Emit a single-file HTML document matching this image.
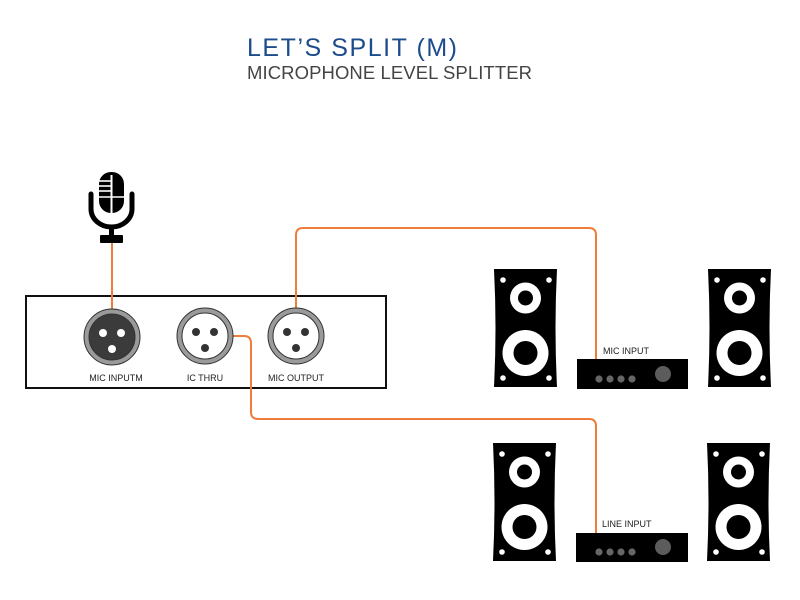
<!DOCTYPE html>
<html><head><meta charset="utf-8"><style>
html,body{margin:0;padding:0;background:#fff;}
svg{display:block;}
text{font-family:"Liberation Sans",Arial,sans-serif;}
</style></head><body>
<svg width="800" height="600" viewBox="0 0 800 600" xmlns="http://www.w3.org/2000/svg">
<rect width="800" height="600" fill="#fff"/>
<!-- Title -->
<text x="247" y="56" font-size="25" fill="#1d4c8c" textLength="210" lengthAdjust="spacing">LET’S SPLIT (M)</text>
<text x="247" y="79" font-size="18.5" fill="#444" textLength="285" lengthAdjust="spacing">MICROPHONE LEVEL SPLITTER</text>

<!-- Splitter box -->
<rect x="26" y="296" width="360" height="92" fill="#fff" stroke="#111" stroke-width="2"/>

<!-- Orange cables -->
<g fill="none" stroke="#f07c3a" stroke-width="2">
<line x1="112" y1="243" x2="112" y2="309"/>
<path d="M296 308 L296 235 Q296 228 303 228 L589 228 Q596 228 596 235 L596 359"/>
<path d="M233 336 L244 336 Q251 336 251 343 L251 412 Q251 419 258 419 L589 419 Q596 419 596 426 L596 533"/>
</g>

<!-- Microphone -->
<g>
<rect x="99" y="172" width="25" height="41" rx="12" fill="#000"/>
<line x1="111.5" y1="175" x2="111.5" y2="213" stroke="#fff" stroke-width="2"/>
<line x1="99" y1="181" x2="111" y2="181" stroke="#fff" stroke-width="1.6"/>
<line x1="99" y1="186" x2="111" y2="186" stroke="#fff" stroke-width="1.6"/>
<line x1="99" y1="191" x2="111" y2="191" stroke="#fff" stroke-width="1.6"/>
<line x1="99" y1="197" x2="124" y2="197" stroke="#fff" stroke-width="1.6"/>
<path d="M91 194 L91 209 A20.5 18 0 0 0 132 209 L132 194" fill="none" stroke="#000" stroke-width="5" stroke-linecap="round"/>
<rect x="109" y="226" width="5" height="12" fill="#000"/>
<rect x="100" y="235" width="23" height="8" rx="1" fill="#000"/>
</g>

<!-- Connectors -->
<g stroke="#333" stroke-width="1">
<circle cx="112" cy="337" r="28" fill="#9a9a9a"/>
<circle cx="112" cy="337" r="23" fill="#3b3b3b"/>
<circle cx="205" cy="336" r="28" fill="#9a9a9a"/>
<circle cx="205" cy="336" r="23" fill="#fff"/>
<circle cx="296" cy="336" r="28" fill="#9a9a9a"/>
<circle cx="296" cy="336" r="23" fill="#fff"/>
</g>
<g fill="#fff">
<circle cx="103" cy="333" r="4"/><circle cx="121" cy="333" r="4"/><circle cx="112" cy="349" r="4"/>
</g>
<g fill="#333">
<circle cx="196" cy="332" r="4"/><circle cx="214" cy="332" r="4"/><circle cx="205" cy="348" r="4"/>
<circle cx="287" cy="332" r="4"/><circle cx="305" cy="332" r="4"/><circle cx="296" cy="348" r="4"/>
</g>
<g font-size="9" fill="#222" text-anchor="middle">
<text x="116" y="381">MIC INPUTM</text>
<text x="205" y="381">IC THRU</text>
<text x="296" y="381">MIC OUTPUT</text>
</g>

<!-- Speakers -->
<g transform="translate(494,269)">
<path d="M0 0 L63 0 Q60 59 63 118 L0 118 Q3 59 0 0 Z" fill="#000"/>
<circle cx="31.5" cy="29" r="15.5" fill="#fff"/><circle cx="31.5" cy="29" r="7.5" fill="#000"/>
<circle cx="31.5" cy="84" r="23" fill="#fff"/><circle cx="31.5" cy="84" r="12" fill="#000"/>
<circle cx="9" cy="11" r="2.8" fill="#fff"/><circle cx="55" cy="11" r="2.8" fill="#fff"/>
<circle cx="9" cy="109" r="2.8" fill="#fff"/><circle cx="55" cy="109" r="2.8" fill="#fff"/>
</g>
<g transform="translate(708,269)">
<path d="M0 0 L63 0 Q60 59 63 118 L0 118 Q3 59 0 0 Z" fill="#000"/>
<circle cx="31.5" cy="29" r="15.5" fill="#fff"/><circle cx="31.5" cy="29" r="7.5" fill="#000"/>
<circle cx="31.5" cy="84" r="23" fill="#fff"/><circle cx="31.5" cy="84" r="12" fill="#000"/>
<circle cx="9" cy="11" r="2.8" fill="#fff"/><circle cx="55" cy="11" r="2.8" fill="#fff"/>
<circle cx="9" cy="109" r="2.8" fill="#fff"/><circle cx="55" cy="109" r="2.8" fill="#fff"/>
</g>
<g transform="translate(493,443)">
<path d="M0 0 L63 0 Q60 59 63 118 L0 118 Q3 59 0 0 Z" fill="#000"/>
<circle cx="31.5" cy="29" r="15.5" fill="#fff"/><circle cx="31.5" cy="29" r="7.5" fill="#000"/>
<circle cx="31.5" cy="84" r="23" fill="#fff"/><circle cx="31.5" cy="84" r="12" fill="#000"/>
<circle cx="9" cy="11" r="2.8" fill="#fff"/><circle cx="55" cy="11" r="2.8" fill="#fff"/>
<circle cx="9" cy="109" r="2.8" fill="#fff"/><circle cx="55" cy="109" r="2.8" fill="#fff"/>
</g>
<g transform="translate(707,443)">
<path d="M0 0 L63 0 Q60 59 63 118 L0 118 Q3 59 0 0 Z" fill="#000"/>
<circle cx="31.5" cy="29" r="15.5" fill="#fff"/><circle cx="31.5" cy="29" r="7.5" fill="#000"/>
<circle cx="31.5" cy="84" r="23" fill="#fff"/><circle cx="31.5" cy="84" r="12" fill="#000"/>
<circle cx="9" cy="11" r="2.8" fill="#fff"/><circle cx="55" cy="11" r="2.8" fill="#fff"/>
<circle cx="9" cy="109" r="2.8" fill="#fff"/><circle cx="55" cy="109" r="2.8" fill="#fff"/>
</g>

<!-- Amps -->
<rect x="577" y="359" width="111" height="30" fill="#000"/>
<g fill="#666"><circle cx="599" cy="379" r="3.6"/><circle cx="610" cy="379" r="3.6"/><circle cx="621" cy="379" r="3.6"/><circle cx="632" cy="379" r="3.6"/></g>
<circle cx="663" cy="374" r="8" fill="#5c5c5c"/>
<text x="603" y="354" font-size="9" fill="#222">MIC INPUT</text>

<rect x="576" y="533" width="112" height="29" fill="#000"/>
<g fill="#666"><circle cx="599" cy="552" r="3.6"/><circle cx="610" cy="552" r="3.6"/><circle cx="621" cy="552" r="3.6"/><circle cx="632" cy="552" r="3.6"/></g>
<circle cx="663" cy="547" r="8" fill="#5c5c5c"/>
<text x="602" y="527" font-size="9" fill="#222">LINE INPUT</text>
</svg>
</body></html>
